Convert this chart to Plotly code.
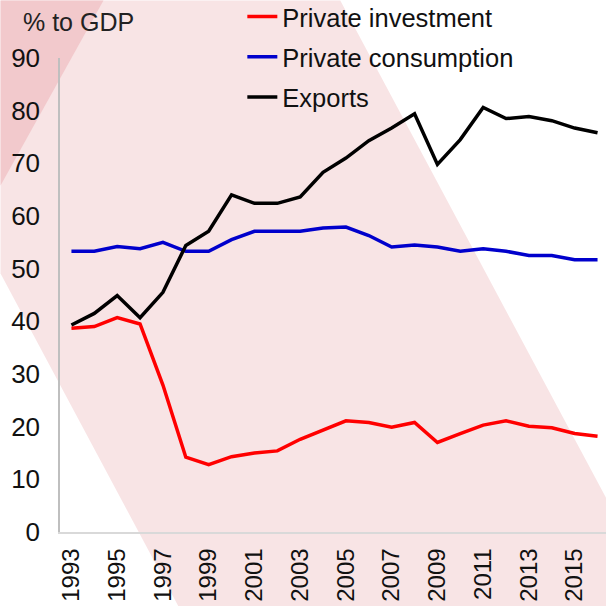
import plotly.graph_objects as go

years = list(range(1993, 2017))
private_investment = [38.7, 39.0, 40.7, 39.5, 27.9, 14.2, 12.8, 14.3, 15.0, 15.4,
                      17.6, 19.4, 21.1, 20.8, 19.9, 20.8, 17.0, 18.7, 20.3, 21.1,
                      20.1, 19.8, 18.7, 18.2]
private_consumption = [53.3, 53.3, 54.2, 53.8, 55.0, 53.3, 53.3, 55.5, 57.1, 57.1,
                       57.1, 57.7, 57.9, 56.3, 54.1, 54.5, 54.1, 53.3, 53.8, 53.3,
                       52.5, 52.5, 51.7, 51.7]
exports = [39.3, 41.5, 44.9, 40.7, 45.5, 54.4, 57.1, 64.0, 62.4, 62.4,
           63.6, 68.3, 71.0, 74.3, 76.7, 79.4, 69.8, 74.5, 80.6, 78.5,
           78.9, 78.1, 76.7, 75.8]
tick_years = list(range(1993, 2016, 2))

W, H = 606, 606
L, R, T, B = 59.5, 0, 57.5, 74.3
pw, ph = W - L - R, H - T - B


def px2paper(x, y):
    return (x - L) / pw, (H - B - y) / ph


def path(points):
    pts = [px2paper(x, y) for x, y in points]
    return "M " + " L ".join(f"{a:.4f},{b:.4f}" for a, b in pts) + " Z"


fig = go.Figure()
series = [("Private investment", private_investment, "#ff0000"),
          ("Private consumption", private_consumption, "#0000cc"),
          ("Exports", exports, "#000000")]
for name, vals, col in series:
    fig.add_trace(go.Scatter(x=years, y=vals, name=name, mode="lines",
                             legendgroup=name,
                             line=dict(color=col, width=3.5)))

# pink background bands
fig.add_shape(type="path", xref="paper", yref="paper", layer="below",
              path=path([(0, 0), (340, 0), (664, 606), (178, 606), (0, 273)]),
              fillcolor="#f8e4e5", line=dict(width=0))
fig.add_shape(type="path", xref="paper", yref="paper", layer="below",
              path=path([(0, 0), (103, 0), (0, 185)]),
              fillcolor="#f2c9cc", line=dict(width=0))

fig.add_annotation(text="% to GDP", xref="paper", yref="paper",
                   x=px2paper(20, 0)[0], y=px2paper(0, 21)[1],
                   xanchor="left", yanchor="middle", showarrow=False,
                   font=dict(size=25, color="#222"))

font = "Liberation Sans, Arial, sans-serif"
fig.update_layout(
    width=W, height=H,
    margin=dict(l=L, r=R, t=T, b=B, pad=0, autoexpand=False),
    paper_bgcolor="white", plot_bgcolor="rgba(0,0,0,0)",
    font=dict(family=font, size=25, color="#111"),
    showlegend=True,
    legend=dict(x=px2paper(242, 0)[0], y=px2paper(0, -7)[1],
                xanchor="left", yanchor="top",
                bgcolor="rgba(0,0,0,0)", tracegroupgap=4,
                font=dict(size=25.5)),
    xaxis=dict(range=[1992.5, 2016.37], tickvals=tick_years, tickangle=-90,
               showgrid=False, zeroline=False, showline=True,
               linecolor="#d9d9d9", linewidth=1.5, tickfont=dict(size=24),
               ticks="outside", ticklen=5, tickcolor="rgba(0,0,0,0)"),
    yaxis=dict(range=[0, 90], dtick=10, showgrid=False, zeroline=False,
               showline=True, linecolor="#bfbfbf", linewidth=1.5,
               tickfont=dict(size=26),
               ticks="outside", ticklen=13, tickcolor="rgba(0,0,0,0)"),
)

fig.write_html("out.html", config={"displayModeBar": False},
               post_script="document.body.style.margin='0';")
